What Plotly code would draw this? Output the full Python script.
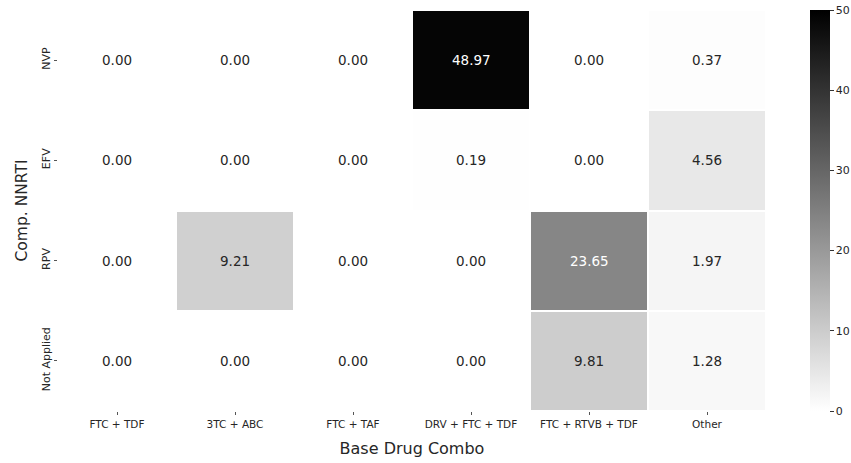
import plotly.graph_objects as go

columns = ["FTC + TDF", "3TC + ABC", "FTC + TAF", "DRV + FTC + TDF", "FTC + RTVB + TDF", "Other"]
rows = ["NVP", "EFV", "RPV", "Not Applied"]
values = [
    [0.00, 0.00, 0.00, 48.97, 0.00, 0.37],
    [0.00, 0.00, 0.00, 0.19, 0.00, 4.56],
    [0.00, 9.21, 0.00, 0.00, 23.65, 1.97],
    [0.00, 0.00, 0.00, 0.00, 9.81, 1.28],
]
cbar_ticks = [0, 10, 20, 30, 40, 50]

colorscale = [[0, "#ffffff"], [1, "#000000"]]

L, R, T, B = 58, 85, 10, 52
W, H = 851, 463
pw = W - L - R

fig = go.Figure()
fig.add_trace(go.Heatmap(
    z=values, x=columns, y=rows,
    zmin=0, zmax=50, colorscale=colorscale,
    xgap=2, ygap=2,
    colorbar=dict(
        x=(810 - L) / pw, xanchor="left",
        thickness=20, lenmode="fraction", len=1,
        y=0.5, yanchor="middle",
        outlinewidth=0, xpad=0, ypad=0,
        tickvals=cbar_ticks, ticks="outside", ticklen=4, tickwidth=1,
        tickcolor="#333", tickfont=dict(family="DejaVu Sans", size=11, color="#262626"),
    ),
    hoverinfo="skip",
))

annotations = []
for r, row in enumerate(rows):
    for c, col in enumerate(columns):
        v = values[r][c]
        annotations.append(dict(
            x=col, y=row, xref="x", yref="y", text=f"{v:.2f}", showarrow=False,
            font=dict(family="DejaVu Sans", size=13.5,
                      color="#ffffff" if v > 20 else "#262626"),
        ))

fig.update_layout(
    width=W, height=H,
    margin=dict(l=L, r=R, t=T, b=B, autoexpand=False),
    plot_bgcolor="white", paper_bgcolor="white",
    annotations=annotations,
    font=dict(family="DejaVu Sans", color="#262626"),
    xaxis=dict(
        title=dict(text="Base Drug Combo", font=dict(size=16, color="#262626"), standoff=14),
        ticks="outside", ticklen=3, tickcolor="#555", showgrid=False, zeroline=False,
        tickfont=dict(size=10.5, color="#262626"), showline=False, automargin=False,
    ),
    yaxis=dict(
        title=dict(text="Comp. NNRTI", font=dict(size=15.5, color="#262626"), standoff=8),
        autorange="reversed", tickangle=-90,
        ticks="outside", ticklen=3, tickcolor="#555", showgrid=False, zeroline=False,
        tickfont=dict(size=11, color="#262626"), showline=False, automargin=False,
    ),
)

fig.write_html(
    "out.html",
    config={"displayModeBar": False},
    post_script="document.body.style.margin='0';document.body.style.padding='0';",
)
